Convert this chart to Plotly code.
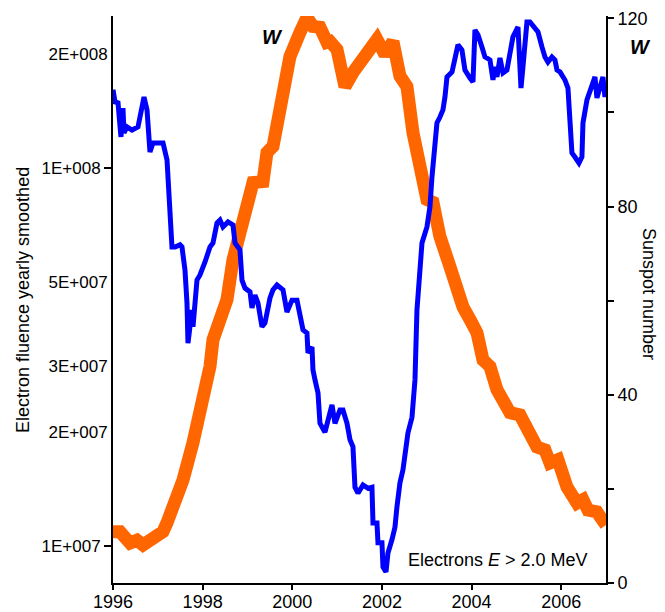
import plotly.graph_objects as go

# Electron fluence (E > 2.0 MeV), yearly smoothed -- left log axis
fluence_year = [1996.000, 1996.045, 1996.112, 1996.178, 1996.223, 1996.245, 1996.312, 1996.424, 1996.558,
                1996.647, 1996.692, 1996.759, 1996.825, 1996.892, 1997.116, 1997.205, 1997.272, 1997.316,
                1997.383, 1997.495, 1997.539, 1997.606, 1997.651, 1997.673, 1997.762, 1997.785, 1997.874,
                1997.941, 1998.053, 1998.164, 1998.231, 1998.320, 1998.387, 1998.454, 1998.566, 1998.677,
                1998.722, 1998.833, 1998.878, 1998.945, 1999.057, 1999.101, 1999.168, 1999.235, 1999.324,
                1999.391, 1999.503, 1999.570, 1999.659, 1999.793, 1999.882, 1999.994, 2000.105, 2000.172,
                2000.239, 2000.328, 2000.350, 2000.440, 2000.462, 2000.507, 2000.574, 2000.618, 2000.730,
                2000.797, 2000.886, 2000.953, 2001.064, 2001.131, 2001.221, 2001.288, 2001.354, 2001.399,
                2001.466, 2001.578, 2001.690, 2001.778, 2001.801, 2001.890, 2001.912, 2002.001, 2002.024,
                2002.091, 2002.135, 2002.225, 2002.291, 2002.336, 2002.403, 2002.470, 2002.515, 2002.581,
                2002.671, 2002.693, 2002.738, 2002.782, 2002.894, 2003.005, 2003.072, 2003.117, 2003.228,
                2003.295, 2003.362, 2003.407, 2003.452, 2003.564, 2003.630, 2003.697, 2003.786, 2003.853,
                2003.965, 2004.032, 2004.076, 2004.143, 2004.232, 2004.299, 2004.411, 2004.478, 2004.522,
                2004.567, 2004.634, 2004.701, 2004.790, 2004.857, 2004.924, 2005.036, 2005.103, 2005.147,
                2005.236, 2005.303, 2005.415, 2005.482, 2005.571, 2005.638, 2005.705, 2005.794, 2005.861,
                2005.906, 2005.973, 2006.084, 2006.151, 2006.240, 2006.307, 2006.397, 2006.463, 2006.486,
                2006.575, 2006.642, 2006.709, 2006.754, 2006.798, 2006.865, 2006.932, 2006.977, 2007.000]
fluence_value = [1.61e8, 1.495e8, 1.486e8, 1.208e8, 1.441e8, 1.238e8, 1.284e8, 1.260e8, 1.284e8,
                 1.424e8, 1.541e8, 1.424e8, 1.102e8, 1.164e8, 1.164e8, 1.050e8, 7.60e7, 6.18e7,
                 6.18e7, 6.26e7, 6.18e7, 5.37e7, 4.39e7, 3.44e7, 4.21e7, 3.80e7, 5.05e7,
                 5.21e7, 5.64e7, 6.18e7, 6.33e7, 7.15e7, 7.28e7, 6.98e7, 7.20e7, 7.07e7,
                 6.33e7, 6.07e7, 5.05e7, 4.81e7, 4.70e7, 4.26e7, 4.61e7, 4.39e7, 3.80e7,
                 3.89e7, 4.53e7, 4.76e7, 4.90e7, 4.76e7, 4.16e7, 4.47e7, 4.47e7, 4.01e7,
                 3.73e7, 3.66e7, 3.24e7, 3.36e7, 2.92e7, 2.75e7, 2.54e7, 2.11e7, 2.00e7,
                 2.15e7, 2.36e7, 2.11e7, 2.29e7, 2.29e7, 2.11e7, 1.91e7, 1.83e7, 1.43e7,
                 1.38e7, 1.45e7, 1.42e7, 1.43e7, 1.15e7, 1.15e7, 1.02e7, 1.02e7, 8.80e6,
                 8.53e6, 9.58e6, 1.04e7, 1.12e7, 1.27e7, 1.47e7, 1.59e7, 1.72e7, 1.99e7,
                 2.19e7, 2.33e7, 2.75e7, 4.21e7, 6.33e7, 6.98e7, 7.89e7, 9.47e7, 1.315e8,
                 1.364e8, 1.424e8, 1.541e8, 1.741e8, 1.795e8, 1.967e8, 2.116e8, 2.052e8, 1.816e8,
                 1.730e8, 1.688e8, 2.318e8, 2.249e8, 2.090e8, 1.967e8, 1.931e8, 1.709e8, 1.850e8,
                 1.741e8, 1.954e8, 1.784e8, 1.816e8, 2.052e8, 2.222e8, 2.360e8, 1.627e8, 1.850e8,
                 2.433e8, 2.433e8, 2.346e8, 2.290e8, 2.090e8, 1.967e8, 1.907e8, 1.967e8, 1.931e8,
                 1.816e8, 1.795e8, 1.709e8, 1.627e8, 1.096e8, 1.069e8, 1.031e8, 1.069e8, 1.315e8,
                 1.513e8, 1.589e8, 1.658e8, 1.741e8, 1.532e8, 1.638e8, 1.741e8, 1.541e8, 1.627e8]

# Sunspot number W -- right linear axis
sunspot_year = [1996.000, 1996.156, 1996.379, 1996.535, 1996.669, 1996.892, 1997.116, 1997.205, 1997.339,
                1997.562, 1997.785, 1998.008, 1998.164, 1998.231, 1998.387, 1998.543, 1998.677, 1998.833,
                1998.990, 1999.124, 1999.347, 1999.436, 1999.570, 1999.726, 1999.793, 1999.949, 2000.172,
                2000.328, 2000.462, 2000.618, 2000.774, 2000.841, 2000.998, 2001.176, 2001.355, 2001.578,
                2001.890, 2002.069, 2002.247, 2002.403, 2002.559, 2002.693, 2002.894, 2003.005, 2003.139,
                2003.295, 2003.519, 2003.675, 2003.808, 2003.965, 2004.121, 2004.255, 2004.411, 2004.567,
                2004.701, 2004.857, 2005.080, 2005.236, 2005.459, 2005.638, 2005.750, 2005.928, 2006.129,
                2006.352, 2006.486, 2006.597, 2006.798, 2007.000]
sunspot_value = [10.9, 10.9, 8.5, 9.1, 8.1, 9.6, 10.9, 12.8, 16.2,
                 21.9, 29.8, 38.9, 46.0, 51.7, 56.0, 60.2, 68.7, 74.5,
                 81.5, 85.1, 85.3, 91.5, 92.8, 100.6, 107.0, 111.9, 117.0,
                 120.2, 118.3, 118.1, 114.9, 115.1, 113.4, 105.5, 108.5, 111.9,
                 115.5, 112.3, 115.1, 107.7, 105.5, 95.7, 86.4, 81.5, 80.9,
                 73.6, 67.2, 61.7, 58.7, 56.0, 53.2, 47.4, 46.0, 41.1,
                 38.9, 36.2, 35.7, 33.2, 28.9, 28.3, 25.5, 26.2, 20.4,
                 17.0, 17.7, 15.5, 15.1, 12.3]

x_ticks = [1996, 1998, 2000, 2002, 2004, 2006]
left_minor_vals = [2e7, 3e7, 5e7, 2e8]
left_minor_text = ["2E+007", "3E+007", "5E+007", "2E+008"]
left_major_vals = [1e7, 1e8]
left_major_text = ["1E+007", "1E+008"]
right_vals = [0, 20, 40, 60, 80, 100, 120]
right_text = ["0", "", "40", "", "80", "", "120"]

FONT = "Liberation Sans, Arial, sans-serif"
log_range = [6.902, 8.402]

fig = go.Figure()
fig.add_trace(go.Scatter(x=sunspot_year, y=sunspot_value, mode="lines", yaxis="y",
                         line=dict(color="#FF6600", width=13), showlegend=False))
fig.add_trace(go.Scatter(x=fluence_year, y=fluence_value, mode="lines", yaxis="y2",
                         line=dict(color="#0000FF", width=5), showlegend=False))
fig.add_trace(go.Scatter(x=[None], y=[None], mode="lines", yaxis="y3", showlegend=False,
                         hoverinfo="skip"))

fig.update_layout(
    width=665, height=612,
    margin=dict(l=113, r=59, t=16, b=29),
    paper_bgcolor="white", plot_bgcolor="white",
    font=dict(family=FONT, size=17, color="black"),
    xaxis=dict(range=[1996, 2007], tickvals=x_ticks, ticks="outside", ticklen=5, tickwidth=2,
               tickcolor="black", showline=True, linecolor="black", linewidth=2,
               showgrid=False, zeroline=False, tickfont=dict(size=18), ticklabelstandoff=-4,
               automargin=False),
    yaxis=dict(side="right", range=[0, 120.5], tickvals=right_vals, ticktext=right_text,
               ticks="outside", ticklen=6, tickwidth=2, tickcolor="black", showline=True,
               linecolor="black", linewidth=2, showgrid=False, zeroline=False,
               tickfont=dict(size=18), automargin=False),
    yaxis2=dict(overlaying="y", side="left", type="log", range=log_range,
                tickvals=left_minor_vals, ticktext=left_minor_text, ticks="",
                showline=True, linecolor="black", linewidth=2, showgrid=False, zeroline=False,
                automargin=False),
    yaxis3=dict(overlaying="y", side="left", type="log", range=log_range,
                tickvals=left_major_vals, ticktext=left_major_text, ticks="outside",
                ticklen=8, tickwidth=2, tickcolor="black", showline=False,
                showgrid=False, zeroline=False, automargin=False),
    annotations=[
        dict(text="Electron fluence yearly smoothed", xref="paper", yref="paper",
             x=-0.1836, y=0.5, textangle=-90, showarrow=False, font=dict(size=18),
             xanchor="center", yanchor="middle"),
        dict(text="Sunspot number", xref="paper", yref="paper",
             x=1.087, y=0.51, textangle=90, showarrow=False, font=dict(size=18),
             xanchor="center", yanchor="middle"),
        dict(text="<b><i>W</i></b>", xref="paper", yref="paper", x=0.3245, y=0.963,
             showarrow=False, font=dict(size=20), xanchor="center", yanchor="middle"),
        dict(text="<b><i>W</i></b>", xref="paper", yref="paper", x=1.069, y=0.945,
             showarrow=False, font=dict(size=20), xanchor="center", yanchor="middle"),
        dict(text="Electrons <i>E</i> &gt; 2.0 MeV", xref="paper", yref="paper",
             x=0.781, y=0.0406, showarrow=False, font=dict(size=18),
             xanchor="center", yanchor="middle"),
    ],
)

fig.write_html("out.html")
